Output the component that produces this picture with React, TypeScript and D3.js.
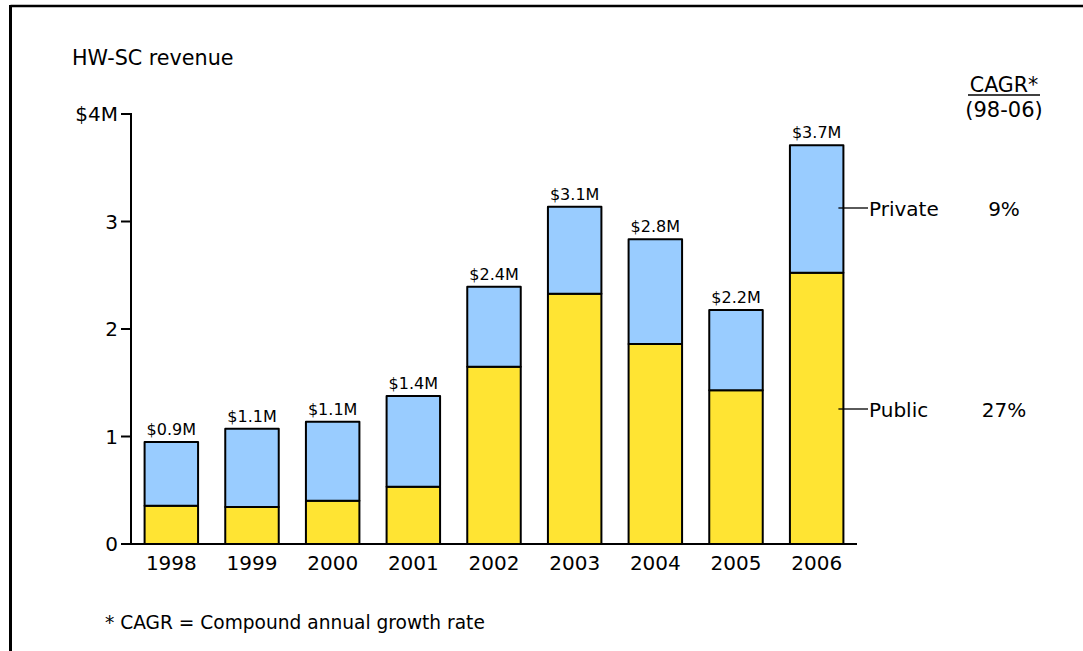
import React from "react";
import * as d3 from "d3";

const years = ["1998", "1999", "2000", "2001", "2002", "2003", "2004", "2005", "2006"];
const publicValues = [0.356, 0.344, 0.403, 0.533, 1.65, 2.328, 1.86, 1.43, 2.524];
const privateValues = [0.594, 0.729, 0.735, 0.844, 0.743, 0.81, 0.974, 0.747, 1.186];
const totalLabels = ["$0.9M", "$1.1M", "$1.1M", "$1.4M", "$2.4M", "$3.1M", "$2.8M", "$2.2M", "$3.7M"];
const yTicks = [0, 1, 2, 3, 4];
const yTickLabels = ["0", "1", "2", "3", "$4M"];
const seriesNames = ["Public", "Private"];
const cagrValues = ["27%", "9%"];

const W = 1083;
const H = 651;
const FONT = "'DejaVu Sans', Verdana, sans-serif";
const COLORS = ["#FFE433", "#99CCFF"];

export default function App() {
  const x = d3.scaleBand<string>().domain(years).range([131, 857]).paddingInner(0.337).paddingOuter(0.1685);
  const y = d3.scaleLinear().domain([0, 4]).range([544, 114]);

  const rows = years.map((yr, i) => ({ year: yr, Public: publicValues[i], Private: privateValues[i] }));
  const stacked = d3.stack<any>().keys(seriesNames)(rows);

  const last = years.length - 1;
  const lastX = (x(years[last]) as number) + x.bandwidth();

  return (
    <svg width={W} height={H} style={{ position: "absolute", left: 0, top: 0, display: "block" }} fontFamily={FONT}>
      <rect x={0} y={0} width={W} height={H} fill="#fff" />
      {/* frame */}
      <line x1={10.5} y1={6} x2={W + 2} y2={6} stroke="#000" strokeWidth={2.5} />
      <line x1={10.5} y1={5} x2={10.5} y2={H + 2} stroke="#000" strokeWidth={3} />

      <text x={72} y={65} fontSize={20.7} fill="#000">HW-SC revenue</text>

      {/* bars */}
      {stacked.map((layer, li) =>
        layer.map((d, i) => (
          <rect
            key={`${li}-${i}`}
            x={x(years[i])}
            y={y(d[1])}
            width={x.bandwidth()}
            height={y(d[0]) - y(d[1])}
            fill={COLORS[li]}
            stroke="#000"
            strokeWidth={2}
            strokeLinejoin="round"
          />
        ))
      )}

      {/* totals */}
      {years.map((yr, i) => (
        <text
          key={yr}
          x={(x(yr) as number) + x.bandwidth() / 2}
          y={y(publicValues[i] + privateValues[i]) - 7}
          fontSize={16}
          textAnchor="middle"
          fill="#000"
        >
          {totalLabels[i]}
        </text>
      ))}

      {/* y axis */}
      <line x1={131} y1={y(4) - 1} x2={131} y2={y(0)} stroke="#000" strokeWidth={2} />
      {yTicks.map((t, i) => (
        <g key={t}>
          <line x1={121} y1={y(t)} x2={131} y2={y(t)} stroke="#000" strokeWidth={2} />
          <text x={118} y={y(t)} dy="0.36em" fontSize={20} textAnchor="end" fill="#000">
            {yTickLabels[i]}
          </text>
        </g>
      ))}

      {/* x axis */}
      <line x1={130} y1={y(0)} x2={857} y2={y(0)} stroke="#000" strokeWidth={2} />
      {years.map((yr) => (
        <text key={yr} x={(x(yr) as number) + x.bandwidth() / 2} y={570} fontSize={20} textAnchor="middle" fill="#000">
          {yr}
        </text>
      ))}

      {/* series labels */}
      {seriesNames.map((name, li) => {
        const cy = li === 0 ? 409 : 208;
        return (
          <g key={name}>
            <line x1={lastX - 5} y1={cy} x2={868} y2={cy} stroke="#000" strokeWidth={1.3} />
            <text x={869} y={cy + 8} fontSize={20} fill="#000">{name}</text>
            <text x={1004} y={cy + 8} fontSize={20} textAnchor="middle" fill="#000">{cagrValues[li]}</text>
          </g>
        );
      })}

      {/* CAGR header */}
      <text x={1004} y={92} fontSize={20.5} textAnchor="middle" fill="#000">CAGR*</text>
      <line x1={968} y1={95} x2={1040} y2={95} stroke="#000" strokeWidth={1.3} />
      <text x={1004} y={117} fontSize={21} textAnchor="middle" fill="#000">(98-06)</text>

      <text x={105} y={629} fontSize={18.6} fill="#000">* CAGR = Compound annual growth rate</text>
    </svg>
  );
}
